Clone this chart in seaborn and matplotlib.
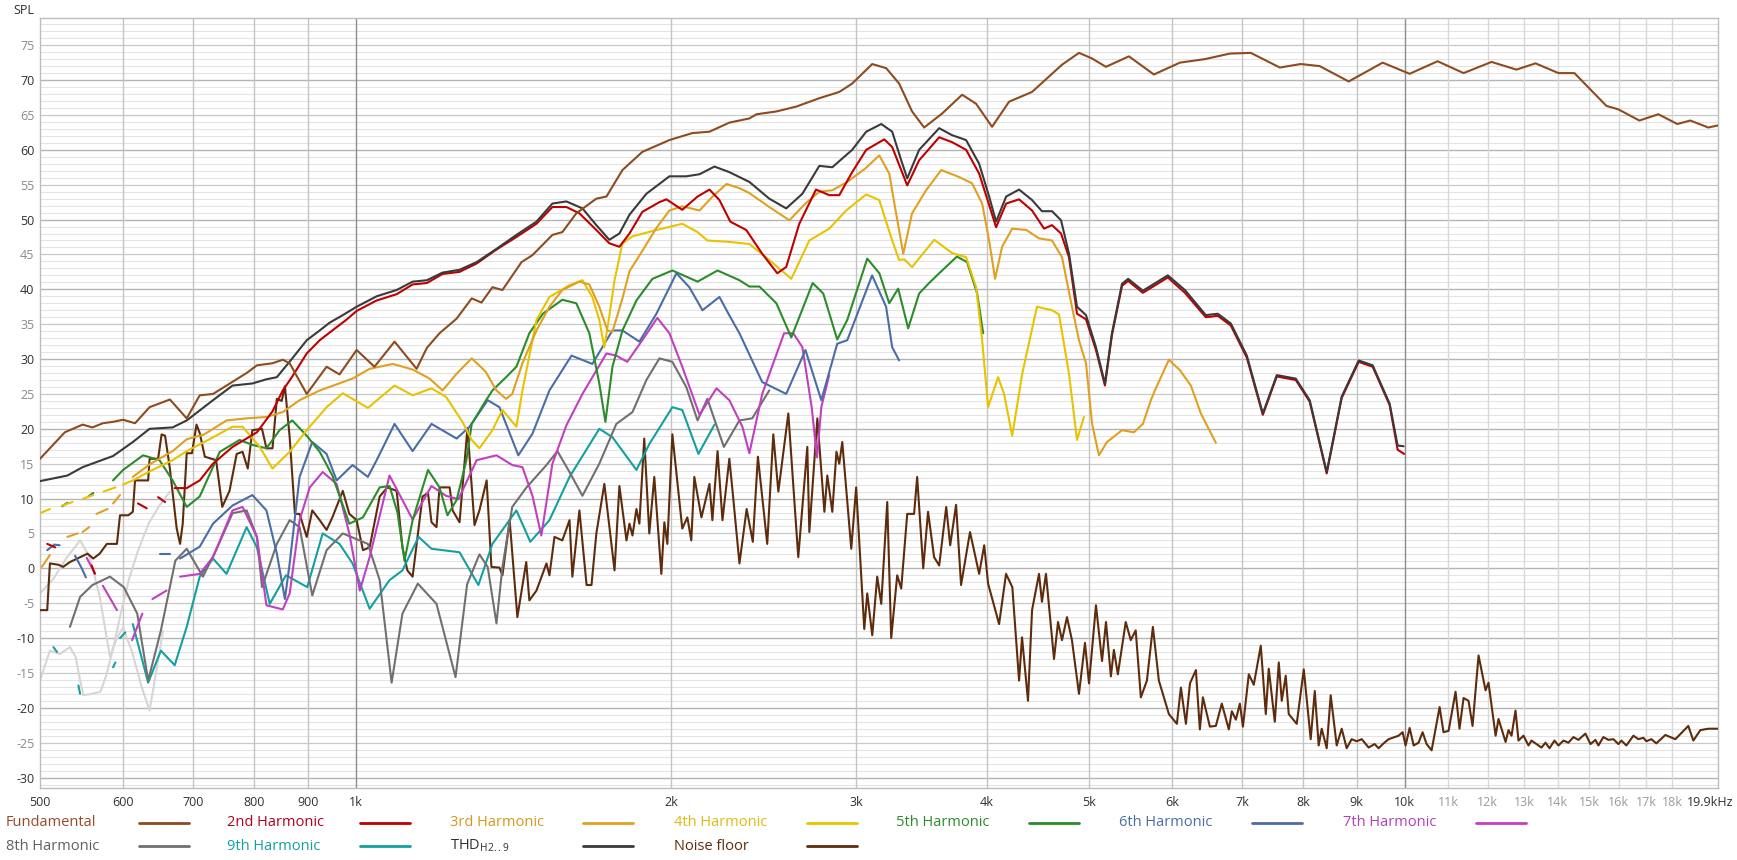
import numpy as np
import pandas as pd
import matplotlib
matplotlib.use("Agg")
import matplotlib.pyplot as plt
import matplotlib.transforms as mtransforms
import seaborn as sns
from matplotlib.lines import Line2D
from matplotlib.ticker import NullLocator

N = np.nan

# ---------------- data (frequency in Hz, level in dB SPL) ----------------
fund_f = [500, 528, 549, 561, 574, 587, 600, 616, 636, 665, 690, 710, 731, 753, 787, 805, 833, 852, 865, 898,
          938, 965, 1002, 1042, 1089, 1143, 1169, 1202, 1248, 1290, 1318, 1350, 1380, 1439, 1474, 1540, 1574,
          1623, 1696, 1734, 1796, 1876, 1991, 2094, 2174, 2271, 2373, 2411, 2518, 2631, 2767, 2891, 2974, 3108,
          3205, 3297, 3392, 3483, 3623, 3786, 3904, 4043, 4197, 4414, 4714, 4893, 5035, 5191, 5460, 5768, 6106,
          6450, 6815, 7135, 7604, 7962, 8301, 8846, 9530, 10112, 10752, 11383, 12104, 12786, 13330, 14020, 14520,
          15575, 15991, 16745, 17457, 18200, 18727, 19480, 19900]
fund_db = [15.7, 19.5, 20.6, 20.2, 20.8, 21.0, 21.3, 20.8, 23.1, 24.2, 21.5, 24.8, 25.0, 26.2, 28.0, 29.1, 29.4,
           29.9, 29.4, 25.0, 28.9, 27.8, 31.3, 28.9, 32.5, 28.6, 31.6, 33.7, 35.8, 38.7, 38.1, 40.3, 39.9, 43.9,
           44.9, 47.8, 48.2, 50.9, 53.0, 53.3, 57.1, 59.7, 61.4, 62.4, 62.6, 63.9, 64.5, 65.1, 65.5, 66.2, 67.4,
           68.3, 69.5, 72.3, 71.7, 69.5, 65.5, 63.2, 65.2, 67.9, 66.6, 63.3, 66.9, 68.3, 72.2, 73.9, 73.1, 71.9,
           73.4, 70.8, 72.5, 73.0, 73.8, 73.9, 71.8, 72.3, 72.0, 69.8, 72.5, 70.9, 72.7, 71.0, 72.6, 71.5, 72.4,
           71.0, 71.0, 66.3, 65.8, 64.2, 65.1, 63.7, 64.2, 63.2, 63.5]

h2_f = [508, 517, N, 560, 564, N, 620, 632, N, 648, 658, N,
        672, 690, 710, 731, 763, 805, 833, 852, 870, 898, 924, 950, 979, 1002, 1047, 1094, 1133, 1169, 1210, 1256,
        1304, 1362, 1423, 1487, 1540, 1588, 1634, 1696, 1745, 1784, 1824, 1876, 1948, 1978, 2048, 2118, 2174,
        2222, 2276, 2357, 2441, 2523, 2573, 2648, 2747, 2828, 2891, 2974, 3067, 3191, 3247, 3312, 3356, 3445,
        3600, 3703, 3819, 3930, 4017, 4079, 4170, 4290, 4414, 4532, 4612, 4704, 4787, 4872, 4969, 5079, 5180,
        5260, 5378, 5451, 5630, 5947, 6174, 6464, 6637, 6829, 7073, 7326, 7554, 7875, 8120, 8429, 8710, 9042,
        9324, 9678, 9849, 9990]
h2_db = [3.5, 3.0, N, 0.4, -0.8, N, 9.3, 8.6, N, 10.2, 9.5, N,
         11.5, 11.5, 12.6, 15.0, 17.4, 19.5, 22.5, 25.5, 27.5, 30.8, 32.7, 34.1, 35.6, 36.9, 38.4, 39.3, 40.7,
         40.9, 42.2, 42.5, 43.7, 45.7, 47.5, 49.4, 51.8, 51.8, 50.9, 48.5, 46.6, 46.1, 48.0, 51.1, 52.5, 52.9,
         51.4, 53.3, 54.3, 52.8, 49.7, 48.5, 45.1, 42.3, 43.2, 49.4, 54.3, 53.5, 53.5, 56.8, 60.0, 61.5, 60.4,
         57.1, 54.9, 58.5, 61.8, 61.1, 60.0, 56.6, 52.1, 48.9, 52.3, 52.9, 51.3, 48.7, 49.2, 48.0, 44.6, 36.5,
         35.7, 31.3, 26.2, 33.4, 40.5, 41.2, 39.5, 41.7, 39.5, 36.0, 36.2, 34.8, 30.2, 22.0, 27.5, 27.0, 23.9,
         13.6, 24.4, 29.6, 28.9, 23.4, 17.0, 16.4]

h3_f = [502, 511, N, 531, 543, N, 549, 557, N, 566, 580, N, 587, 596, N,
        613, 636, 669, 690, 717, 753, 787, 822, 852, 884, 924, 944, 993, 1031, 1085, 1133, 1176, 1210, 1248,
        1290, 1330, 1362, 1391, 1410, 1442, 1487, 1530, 1574, 1634, 1670, 1707, 1738, 1757, 1796, 1824, 1876,
        1935, 1991, 2048, 2127, 2189, 2257, 2322, 2373, 2479, 2591, 2684, 2767, 2847, 2935, 3060, 3156, 3226,
        3275, 3327, 3392, 3498, 3616, 3761, 3869, 3956, 4017, 4070, 4133, 4226, 4360, 4482, 4612, 4714, 4818,
        4893, 4969, 5036, 5112, 5203, 5378, 5520, 5630, 5730, 5780, 5961, 6107, 6255, 6394, 6608]
h3_db = [0.2, 1.9, N, 4.5, 5.0, N, 5.2, 5.9, N, 7.8, 8.5, N, 9.3, 10.5, N,
         13.1, 14.9, 16.8, 18.5, 19.2, 21.2, 21.5, 21.7, 22.4, 24.1, 25.5, 26.0, 27.2, 28.6, 29.3, 28.5, 27.2,
         25.5, 27.9, 30.1, 28.2, 25.5, 24.3, 25.0, 29.4, 34.1, 37.5, 39.9, 41.1, 40.7, 37.5, 34.1, 33.9, 38.7,
         42.6, 45.5, 48.8, 51.3, 51.9, 51.3, 53.3, 55.1, 54.5, 53.8, 51.8, 49.9, 52.3, 54.0, 54.2, 55.3, 57.3,
         59.2, 56.6, 50.9, 45.1, 50.9, 54.2, 57.1, 56.1, 55.2, 52.3, 47.0, 41.5, 46.1, 48.7, 48.5, 47.3, 47.0,
         44.6, 37.5, 32.7, 29.4, 20.7, 16.2, 18.1, 19.8, 19.5, 20.7, 24.1, 25.5, 29.9, 28.4, 26.2, 22.2, 18.0]

h4_f = [500, 511, N, 525, 537, N, 550, 562, N, 575, 590, N,
        600, 613, 640, 669, 690, 717, 763, 780, 810, 833, 865, 898, 938, 972, 1027, 1089, 1133, 1181, 1219,
        1264, 1290, 1312, 1350, 1380, 1423, 1442, 1487, 1530, 1599, 1645, 1681, 1707, 1726, 1745, 1765, 1796,
        1836, 1935, 2048, 2118, 2164, 2271, 2373, 2479, 2602, 2707, 2828, 2935, 3067, 3156, 3247, 3297, 3334,
        3392, 3561, 3703, 3819, 3904, 3956, 4008, 4097, 4151, 4226, 4320, 4462, 4612, 4683, 4787, 4872, 4947]
h4_db = [7.9, 8.5, N, 9.0, 9.5, N, 10.0, 10.5, N, 11.0, 11.6, N,
         12.0, 12.6, 14.1, 15.5, 16.8, 18.1, 20.3, 20.3, 17.4, 14.3, 16.7, 19.8, 23.1, 25.1, 23.0, 26.2, 24.8,
         25.8, 24.6, 21.0, 18.4, 17.2, 19.8, 22.7, 20.3, 25.5, 35.6, 38.9, 40.6, 41.3, 38.9, 35.6, 31.7, 36.2,
         41.3, 46.6, 47.6, 48.5, 49.4, 48.2, 47.0, 46.8, 46.5, 44.2, 41.5, 47.0, 48.7, 51.3, 53.6, 52.8, 47.0,
         44.2, 44.3, 43.2, 47.1, 45.2, 44.6, 40.3, 32.7, 23.1, 27.4, 25.0, 19.0, 27.9, 37.5, 37.0, 36.4, 27.9,
         18.4, 21.7]

h5_f = [525, 531, N, 556, 562, N,
        587, 600, 627, 650, 669, 690, 710, 742, 775, 797, 822, 846, 870, 898, 924, 950, 986, 1016, 1054, 1077,
        1096, 1113, 1133, 1172, 1202, 1223, 1248, 1275, 1290, 1330, 1350, 1391, 1423, 1464, 1508, 1574, 1623,
        1670, 1707, 1730, 1757, 1796, 1852, 1918, 2004, 2118, 2213, 2322, 2373, 2426, 2518, 2602, 2727, 2791,
        2878, 2942, 3074, 3157, 3226, 3290, 3363, 3445, 3521, 3600, 3743, 3827, 3913, 3965]
h5_db = [8.9, 9.4, N, 10.3, 10.8, N,
         12.6, 14.1, 16.2, 15.5, 12.6, 8.8, 10.3, 16.7, 18.4, 17.7, 17.2, 19.8, 21.2, 19.0, 16.7, 13.3, 6.4, 7.3,
         11.6, 11.8, 8.0, 1.1, 6.9, 14.1, 11.6, 7.6, 9.8, 15.5, 20.7, 24.0, 25.5, 27.4, 28.9, 33.7, 36.5, 38.5,
         38.0, 33.7, 26.5, 21.0, 28.9, 34.1, 38.4, 41.5, 42.7, 41.1, 42.7, 41.3, 40.4, 40.4, 38.0, 33.1, 40.9,
         39.4, 32.8, 35.6, 44.4, 42.3, 38.0, 40.1, 34.4, 39.4, 40.9, 42.3, 44.7, 43.9, 39.4, 33.7]

h6_f = [508, 516, 522, N, 540, 548, 553, N, 650, 665, N,
        680, 710, 731, 763, 797, 822, 841, 856, 865, 884, 909, 938, 959, 993, 1027, 1047, 1089, 1133, 1181, 1248,
        1284, 1336, 1371, 1429, 1474, 1530, 1606, 1681, 1757, 1796, 1864, 1935, 2022, 2080, 2141, 2222, 2276,
        2322, 2441, 2573, 2684, 2779, 2878, 2942, 3107, 3204, 3247, 3297]
h6_db = [2.6, 3.4, 3.3, N, 1.8, 0.0, -1.3, N, 2.1, 2.1, N,
         1.4, 3.1, 6.4, 9.0, 10.5, 8.3, 2.1, -4.4, 0.7, 13.1, 18.1, 16.4, 12.6, 14.8, 13.1, 15.5, 20.7, 16.8,
         20.7, 18.6, 20.3, 24.1, 23.1, 16.2, 19.3, 25.5, 30.5, 29.3, 34.1, 34.1, 32.5, 36.5, 42.3, 40.3, 37.0,
         38.9, 36.0, 33.7, 26.7, 25.0, 31.3, 24.1, 32.2, 32.7, 42.0, 37.5, 31.7, 29.8]

h7_f = [554, 564, N, 574, 592, N, 612, 626, N, 640, 660, N,
        680, 710, 731, 763, 780, 805, 822, 852, 865, 884, 904, 930, 959, 986, 1009, 1031, 1077, 1133, 1181, 1219,
        1253, 1304, 1362, 1410, 1442, 1474, 1503, 1540, 1588, 1645, 1734, 1772, 1815, 1876, 1939, 1991, 2048,
        2127, 2208, 2271, 2337, 2373, 2441, 2561, 2613, 2666, 2721, 2753, 2779, 2828]
h7_db = [1.5, -0.7, N, -2.5, -6.0, N, -10.3, -6.5, N, -4.4, -3.2, N,
         -1.2, -0.8, 1.6, 8.3, 8.8, 4.5, -5.3, -5.9, -3.6, 6.9, 11.6, 13.8, 12.1, 5.0, -3.2, 1.6, 13.3, 7.0,
         11.8, 10.4, 9.9, 15.5, 16.2, 14.8, 14.5, 10.4, 4.7, 15.0, 20.5, 25.0, 30.8, 30.5, 29.6, 32.7, 35.9,
         33.7, 28.9, 22.0, 25.8, 24.1, 20.3, 16.5, 25.0, 33.7, 33.7, 31.7, 23.1, 15.9, 23.1, 27.7]

h8_f = [534, 546, 561, 583, 601, 619, 634, 652, 673, 690, 715, 736, 763, 787, 805, 814, 841, 865, 884, 909, 938,
        972, 1027, 1054, 1082, 1108, 1146, 1194, 1245, 1277, 1312, 1336, 1362, 1380, 1410, 1455, 1520, 1557,
        1599, 1645, 1707, 1772, 1836, 1893, 1948, 2004, 2066, 2118, 2164, 2244, 2322, 2388, 2479]
h8_db = [-8.4, -4.1, -2.4, -1.2, -2.7, -6.5, -16.1, -8.9, 1.1, 2.8, -1.2, 2.6, 7.9, 8.3, 4.5, -2.7, 3.5, 6.9, 5.9,
         -3.9, 2.6, 5.0, 3.5, -1.7, -16.4, -6.5, -2.2, -5.1, -15.6, -2.3, 2.0, 0.2, -7.9, 0.2, 8.8, 11.6, 14.8,
         16.8, 13.8, 10.4, 15.0, 20.7, 22.4, 27.0, 30.1, 29.6, 26.0, 21.2, 24.3, 17.4, 21.2, 21.5, 25.5]

h9_f = [515, 519, N, 544, 546, N, 587, 590, N, 596, 603, N,
        613, 634, 652, 672, 690, 710, 731, 753, 787, 805, 828, 858, 899, 930, 965, 993, 1031, 1077, 1108, 1148,
        1181, 1256, 1309, 1350, 1423, 1467, 1530, 1599, 1707, 1757, 1852, 1905, 2004, 2048, 2122, 2198]
h9_db = [-11.3, -12.0, N, -16.8, -18.0, N, -14.2, -13.5, N, -10.0, -9.2, N,
         -8.0, -16.4, -11.8, -13.9, -8.4, -1.2, 1.4, -0.8, 5.9, 3.0, -5.1, -1.0, -2.7, 5.0, 3.5, 0.7, -5.8, -1.7,
         -0.3, 4.5, 2.8, 2.3, -2.4, 3.5, 8.3, 3.8, 6.9, 13.1, 20.0, 18.8, 14.1, 17.8, 23.1, 22.7, 16.4, 20.6]

thd_f = [500, 531, 549, 587, 613, 636, 669, 690, 731, 763, 797, 822, 841, 870, 898, 924, 944, 972, 1002, 1047,
         1094, 1133, 1169, 1210, 1256, 1304, 1362, 1423, 1487, 1540, 1588, 1645, 1696, 1745, 1784, 1824, 1893,
         1991, 2066, 2127, 2198, 2271, 2373, 2479, 2573, 2666, 2767, 2847, 2974, 3067, 3170, 3247, 3312, 3356,
         3445, 3600, 3703, 3819, 3930, 4017, 4079, 4170, 4290, 4414, 4511, 4612, 4704, 4787, 4872, 4969, 5079,
         5180, 5260, 5378, 5451, 5630, 5947, 6174, 6464, 6637, 6829, 7073, 7326, 7554, 7875, 8120, 8429, 8710,
         9042, 9324, 9678, 9849, 9980]
thd_db = [12.5, 13.3, 14.5, 16.1, 18.1, 20.0, 20.2, 21.2, 24.1, 26.2, 26.5, 27.1, 27.4, 30.1, 32.7, 34.1, 35.2,
          36.3, 37.5, 39.0, 39.9, 41.1, 41.3, 42.4, 42.8, 43.9, 45.8, 47.8, 49.7, 52.3, 52.6, 51.6, 49.2, 47.1,
          48.0, 50.7, 53.7, 56.2, 56.2, 56.5, 57.6, 56.8, 55.4, 53.0, 51.6, 53.7, 57.7, 57.5, 60.0, 62.6, 63.7,
          62.6, 58.5, 55.9, 60.0, 63.1, 62.1, 61.4, 58.0, 53.3, 49.7, 53.3, 54.3, 52.8, 51.2, 51.2, 49.9, 45.1,
          37.5, 36.3, 31.7, 26.5, 33.7, 40.8, 41.5, 39.8, 42.0, 39.9, 36.3, 36.5, 35.1, 30.5, 22.2, 27.7, 27.2,
          24.1, 13.8, 24.6, 29.8, 29.1, 23.6, 17.6, 17.5]

noise_f = [500, 508, 511, 521, 526, 534, 546, 555, 562, 570, 579, 592, 596, 607, 613, 616, 634, 636, 648, 653,
           658, 665, 675, 680, 684, 690, 698, 705, 710, 718, 736, 746, 758, 770, 780, 789, 797, 814, 822, 833,
           841, 850, 856, 865, 875, 884, 898, 909, 924, 938, 950, 972, 986, 1002, 1016, 1031, 1054, 1072, 1094,
           1108, 1120, 1133, 1158, 1172, 1181, 1194, 1202, 1229, 1237, 1256, 1278, 1298, 1312, 1333, 1347, 1371,
           1380, 1402, 1426, 1454, 1464, 1487, 1520, 1530, 1547, 1574, 1599, 1609, 1634, 1660, 1678, 1696, 1726,
           1765, 1784, 1812, 1824, 1836, 1852, 1864, 1884, 1905, 1926, 1956, 1969, 1982, 2004, 2048, 2071, 2089,
           2103, 2136, 2174, 2188, 2213, 2237, 2271, 2287, 2322, 2359, 2391, 2418, 2468, 2501, 2529, 2585, 2642,
           2695, 2707, 2737, 2755, 2798, 2816, 2847, 2873, 2891, 2910, 2968, 3000, 3054, 3074, 3108, 3142, 3170,
           3212, 3240, 3283, 3312, 3356, 3407, 3430, 3476, 3513, 3560, 3600, 3656, 3688, 3736, 3777, 3852, 3930,
           3974, 4008, 4106, 4169, 4227, 4290, 4318, 4375, 4414, 4482, 4511, 4551, 4632, 4673, 4714, 4766, 4818,
           4893, 4958, 5002, 5079, 5147, 5192, 5248, 5283, 5329, 5422, 5482, 5542, 5605, 5680, 5755, 5831, 5961,
           6066, 6120, 6188, 6243, 6325, 6380, 6423, 6522, 6608, 6695, 6799, 6844, 6905, 6966, 7013, 7104, 7182,
           7293, 7374, 7422, 7521, 7587, 7637, 7704, 7755, 7892, 8015, 8138, 8211, 8282, 8337, 8429, 8503, 8616,
           8711, 8807, 8904, 9003, 9103, 9242, 9364, 9447, 9550, 9657, 9871, 9958, 10023, 10112, 10202, 10313,
           10404, 10496, 10612, 10800, 10893, 11015, 11185, 11283, 11383, 11508, 11610, 11764, 11946, 12024,
           12213, 12291, 12483, 12564, 12647, 12758, 12842, 12984, 13127, 13213, 13359, 13507, 13626, 13746,
           13898, 14020, 14174, 14330, 14488, 14648, 14875, 15040, 15205, 15305, 15473, 15644, 15816, 15991,
           16097, 16274, 16527, 16708, 16892, 17004, 17191, 17380, 17727, 18121, 18644, 18851, 19143, 19480, 19900]
noise_db = [-6.0, -6.0, 0.7, 0.5, 0.2, 0.9, 1.6, 2.1, 1.4, 2.1, 3.5, 3.5, 7.6, 7.6, 8.1, 12.6, 12.6, 15.7, 15.7,
            19.2, 19.0, 14.3, 5.7, 3.5, 6.4, 16.5, 16.5, 20.6, 19.4, 16.0, 15.5, 8.8, 11.1, 16.4, 16.7, 14.3,
            19.8, 20.0, 17.2, 17.2, 24.3, 24.0, 26.1, 18.8, 7.8, 7.8, 4.5, 8.3, 6.9, 5.5, 7.3, 11.1, 7.8, 6.9,
            2.6, 3.0, 10.3, 11.6, 11.1, 3.0, -0.3, -1.2, 10.3, 10.8, 6.6, 5.9, 11.6, 11.6, 8.3, 6.6, 20.1, 6.2,
            8.3, 12.6, 0.2, 0.1, -1.0, 6.9, -7.0, 0.9, -4.6, -3.2, 0.7, -1.0, 4.5, 4.0, 6.9, -1.2, 8.3, -2.4,
            -2.4, 5.0, 12.1, -0.3, 11.8, 4.0, 6.4, 4.7, 8.5, 6.4, 18.6, 5.0, 13.1, -0.8, 6.6, 3.5, 19.2, 5.7,
            7.3, 4.0, 13.1, 7.3, 12.1, 6.9, 16.8, 6.9, 15.7, 11.1, 0.7, 8.5, 3.8, 16.0, 3.5, 19.2, 11.0, 22.2,
            1.6, 17.4, 5.2, 15.5, 21.5, 8.1, 13.3, 8.1, 16.7, 15.0, 18.1, 2.8, 11.6, -8.7, -3.6, -9.6, -1.2,
            -5.1, 9.5, -10.0, -1.0, -2.9, 7.8, 7.8, 13.1, 0.0, 8.1, 1.6, 0.4, 8.8, 3.3, 9.1, -2.4, 5.2, -0.8,
            3.3, -2.2, -8.0, -0.8, -2.7, -16.1, -9.9, -19.0, -6.0, -0.8, -4.8, -0.8, -13.0, -7.7, -10.3, -7.0,
            -10.3, -18.0, -10.7, -16.5, -5.3, -13.3, -7.7, -15.5, -11.7, -15.2, -7.7, -10.3, -8.9, -18.5, -16.1,
            -8.4, -16.1, -20.9, -22.3, -17.1, -22.3, -16.5, -14.6, -23.1, -18.5, -22.7, -22.6, -19.4, -23.1,
            -20.5, -21.7, -19.4, -22.7, -15.2, -16.7, -11.1, -20.9, -14.4, -22.0, -13.5, -19.0, -15.4, -20.9,
            -22.3, -14.5, -24.5, -17.6, -25.4, -23.0, -25.8, -18.2, -25.4, -23.0, -25.8, -24.5, -24.8, -24.5,
            -25.7, -25.2, -25.8, -25.1, -24.5, -24.0, -23.5, -25.4, -22.9, -25.4, -25.0, -23.5, -25.2, -26.1,
            -19.9, -23.5, -23.3, -17.7, -23.0, -18.6, -19.0, -22.6, -12.5, -17.5, -16.4, -24.0, -21.6, -24.9,
            -23.2, -24.0, -20.4, -24.7, -24.0, -25.4, -24.7, -25.2, -25.7, -25.0, -25.8, -24.7, -25.4, -24.7,
            -25.0, -24.2, -24.6, -23.7, -25.2, -24.6, -25.4, -24.2, -24.6, -24.5, -25.2, -24.7, -25.4, -24.0,
            -24.5, -24.3, -24.8, -24.5, -25.1, -23.9, -24.5, -22.6, -24.7, -23.2, -23.0, -23.0]

# unlabelled light grey trace at the low end
extra_f = [500, 511, 522, 534, 541, 546, 550, 560, 571, 579, 588, 598, 608, 620, 635, 650, 665, N,
           500, 515, 530, 546, 558, 570, 583, 592, 600, 612, 625, 636, 645, 655]
extra_db = [-16.1, -11.8, -12.3, -11.3, -12.8, -16.1, -18.2, -18.0, -17.7, -15.1, -11.0, -6.0, -1.5, 2.5, 6.5,
            9.0, 11.0, N,
            -3.6, -1.5, 1.5, 4.0, 1.5, -4.0, -12.7, -10.0, -8.5, -12.0, -17.0, -20.4, -15.0, -9.0]

series_names = ["Fundamental", "2nd Harmonic", "3rd Harmonic", "4th Harmonic", "5th Harmonic",
                "6th Harmonic", "7th Harmonic", "8th Harmonic", "9th Harmonic", "THD$_{\\mathregular{H2..9}}$",
                "Noise floor"]
series_colors = ["#8E4B1F", "#C00000", "#E0A020", "#E8C300", "#2A8C2A", "#4A6DA8", "#C040C0",
                 "#707070", "#14A0A0", "#3A3A3A", "#5E2C0C"]
label_colors = ["#9A4A28", "#B00020", "#D9961A", "#E0BA10", "#2E8B2E", "#4A6DA8", "#B040B8",
                "#606060", "#14A0A0", "#303030", "#5E2C0C"]
series_data = [(fund_f, fund_db), (h2_f, h2_db), (h3_f, h3_db), (h4_f, h4_db), (h5_f, h5_db),
               (h6_f, h6_db), (h7_f, h7_db), (h8_f, h8_db), (h9_f, h9_db), (thd_f, thd_db),
               (noise_f, noise_db)]

x_ticks = [500, 600, 700, 800, 900, 1000, 2000, 3000, 4000, 5000, 6000, 7000, 8000, 9000, 10000,
           11000, 12000, 13000, 14000, 15000, 16000, 17000, 18000, 19900]
x_labels = ["500", "600", "700", "800", "900", "1k", "2k", "3k", "4k", "5k", "6k", "7k", "8k", "9k", "10k",
            "11k", "12k", "13k", "14k", "15k", "16k", "17k", "18k", "19.9kHz"]
y_ticks = list(range(-30, 80, 5))

# ---------------- figure ----------------
sns.set_theme(style="white")
plt.rcParams["font.family"] = ["Open Sans", "DejaVu Sans"]

W, H = 1737, 860
fig = plt.figure(figsize=(W / 100, H / 100), dpi=100)
ax = fig.add_axes([40 / W, 1 - 788 / H, (1718 - 40) / W, (788 - 18) / H])
ax.set_xscale("log")
ax.set_xlim(500, 19900)
ax.set_ylim(-31.5, 78.9)

# grid
for v in range(-31, 79):
    if v % 10 == 0:
        c, lw = "#b4b4b4", 1.0
    elif v % 5 == 0:
        c, lw = "#c8c8c8", 0.9
    else:
        c, lw = "#e4e4e4", 0.8
    ax.axhline(v, color=c, lw=lw, zorder=0)
for f in x_ticks[1:-1]:
    if f in (1000, 10000):
        c = "#8c8c8c"
    elif f > 10000:
        c = "#d8d8d8"
    else:
        c = "#c4c4c4"
    ax.axvline(f, color=c, lw=1.0, zorder=0)


def split_nan(fv, dv):
    fv = np.asarray(fv, float)
    dv = np.asarray(dv, float)
    segs, cur = [], []
    for a, b in zip(fv, dv):
        if np.isnan(a) or np.isnan(b):
            if cur:
                segs.append(cur)
            cur = []
        else:
            cur.append((a, b))
    if cur:
        segs.append(cur)
    return segs


def draw(fv, dv, color, lw=1.5, z=2):
    for seg in split_nan(fv, dv):
        df = pd.DataFrame(seg, columns=["freq", "spl"])
        sns.lineplot(data=df, x="freq", y="spl", ax=ax, color=color, lw=lw,
                     estimator=None, sort=False, zorder=z, legend=False)


draw(extra_f, extra_db, "#D6D6D6", lw=1.5, z=1.5)
for i in [10, 8, 7, 6, 5, 4, 3, 2, 1, 9, 0]:
    f_, d_ = series_data[i]
    draw(f_, d_, series_colors[i], lw=1.5, z=3 + (1 if i in (0, 9) else 0))

ax.set_xlabel("")
ax.set_ylabel("")
ax.xaxis.set_minor_locator(NullLocator())
ax.set_xticks(x_ticks)
ax.set_xticklabels(x_labels)
ax.set_yticks(y_ticks)
ax.set_yticklabels([str(v) for v in y_ticks])
ax.tick_params(axis="both", length=0, labelsize=9)
ax.tick_params(axis="x", pad=6)
ax.tick_params(axis="y", pad=4)
xlabs = ax.get_xticklabels()
for lab, f in zip(xlabs, x_ticks):
    lab.set_color("#9a9a9a" if 10000 < f < 19900 else "#303030")
# last label sits flush against the right edge of the figure
xlabs[-1].set_horizontalalignment("right")
xlabs[-1].set_transform(xlabs[-1].get_transform() +
                        mtransforms.ScaledTranslation(15 / 100, 0, fig.dpi_scale_trans))
for lab, v in zip(ax.get_yticklabels(), y_ticks):
    lab.set_color("#303030" if v % 10 == 0 else "#8a8a8a")
for s in ax.spines.values():
    s.set_color("#bdbdbd")
    s.set_linewidth(1.0)

fig.text(13 / W, 1 - 4 / H, "SPL", ha="left", va="top", fontsize=9, color="#303030")

# legend (label followed by a line sample), laid out in a grid
col_x = [5.5, 227, 450, 673.5, 896, 1119, 1342.6]
row_y = [823, 846]
slots = [(0, 0), (0, 1), (0, 2), (0, 3), (0, 4), (0, 5), (0, 6), (1, 0), (1, 1), (1, 2), (1, 3)]
for i, (r, c) in enumerate(slots):
    x0 = col_x[c]
    y0 = 1 - row_y[r] / H
    fig.text(x0 / W, y0, series_names[i], color=label_colors[i], fontsize=10.5, ha="left", va="center")
    fig.add_artist(Line2D([(x0 + 133) / W, (x0 + 183) / W], [y0, y0], color=series_colors[i], lw=2.0,
                          transform=fig.transFigure))

fig.savefig("out.png", dpi=100)
